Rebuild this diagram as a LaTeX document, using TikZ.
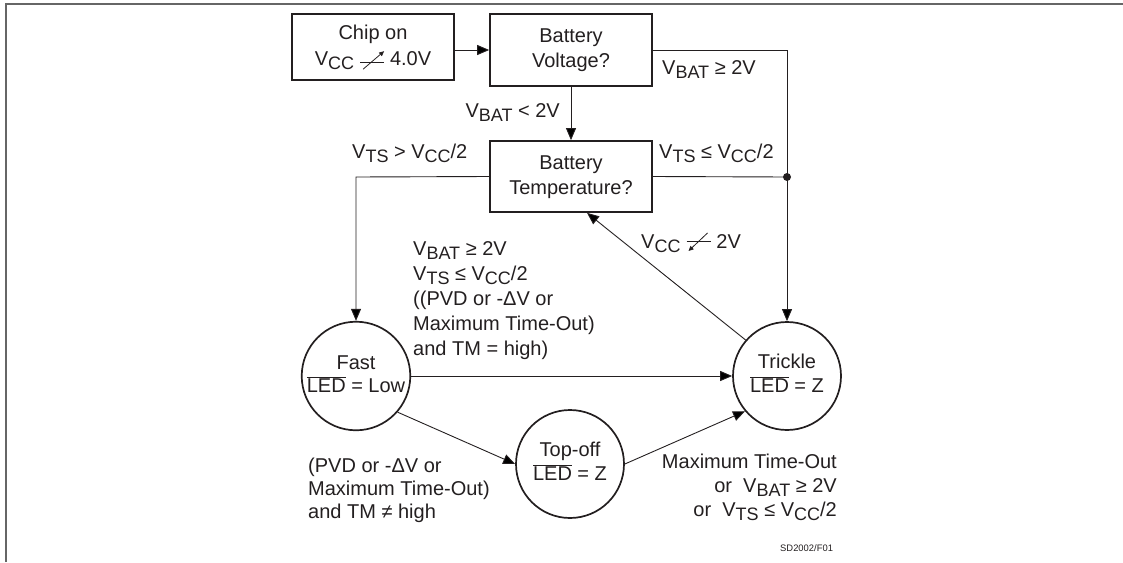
\documentclass[tikz,border=0pt]{standalone}
\usepackage{fontspec}
\setmainfont{Liberation Sans}
\usetikzlibrary{arrows.meta}
\definecolor{ink}{HTML}{231F20}
\newcommand\sub[1]{\raisebox{-0.22em}{\fontsize{18}{18}\selectfont #1}}
\newcommand\ovl[1]{$\overline{\mbox{#1}}$}
\newcommand\risearrow{\tikz[baseline=0pt,x=1pt,y=1pt]{\draw[ink,line width=0.8pt] (0,3)--(24,3); \draw[ink,line width=0.8pt,-{Triangle[length=5pt,width=4.5pt]}] (3,-4)--(24,14);}}
\newcommand\fallarrow{\tikz[baseline=0pt,x=1pt,y=1pt]{\draw[ink,line width=0.8pt] (0,7)--(24,7); \draw[ink,line width=0.8pt,-{Triangle[length=5pt,width=4.5pt]}] (21,15)--(2,-3);}}
\newcommand\stack[3]{{\fontsize{20}{#1}\selectfont\begin{tabular}[t]{@{}#2@{}}#3\end{tabular}}}
\newcommand\cstack[2]{{\fontsize{20}{#1}\selectfont\begin{tabular}{@{}c@{}}#2\end{tabular}}}
\begin{document}
\begin{tikzpicture}[x=1pt,y=-1pt,font=\fontsize{20}{24}\selectfont,text=ink,
  box/.style={draw=ink,line width=1.7pt,minimum width=162pt,inner sep=0pt},
  state/.style={circle,draw=ink,line width=1.7pt,minimum size=108pt,inner sep=0pt},
  conn/.style={draw=ink,line width=0.9pt},
  arr/.style={conn,-{Triangle[length=12pt,width=10pt]}},
  lbl/.style={inner sep=0pt}]
\useasboundingbox (0,0) rectangle (1123,562);
\draw[gray!80!black,line width=1.5pt] (6,562) -- (6,4) -- (1123,4);
% boxes
\node[box,minimum height=66pt] (chip) at (373,47) {\raisebox{-3pt}{\cstack{26}{Chip on\\V\sub{CC} \risearrow{} 4.0V}}};
\node[box,minimum height=72pt] (bv) at (571,50) {\cstack{25}{Battery\\Voltage?}};
\node[box,minimum height=71pt] (temp) at (571,176.5) {\cstack{25}{Battery\\Temperature?}};
% states
\node[state] (fast) at (356,376) {\raisebox{2pt}{\cstack{23}{Fast\\\ovl{LED} = Low}}};
\node[state] (trickle) at (787,376) {\raisebox{2pt}{\cstack{24}{Trickle\\\ovl{LED} = Z}}};
\node[state] (topoff) at (570,464) {\raisebox{2pt}{\cstack{24}{Top-off\\\ovl{LED} = Z}}};
% junctions
\coordinate (c1) at (787,50);
\coordinate (dot) at (787,177);
\coordinate (c2) at (356,177);
\fill[ink] (dot) circle (4pt);
% connectors
\draw[arr] (chip.east |- bv.west) -- (bv.west);
\draw[arr] (bv.south) -- (temp.north);
\draw[conn] (bv.east) -- (c1) -- (dot);
\draw[arr] (dot) -- (trickle.north);
\draw[conn] (temp.east) -- (dot);
\draw[arr] (temp.west) -- (c2) -- (fast.north);
\draw[arr] (fast.east) -- (trickle.west);
\draw[arr] (fast.-41) -- (topoff.west);
\draw[arr] (topoff.east) -- (trickle.-140);
\draw[arr] (trickle.139) -- ([xshift=16pt]temp.south);
% labels
\node[lbl,anchor=base east] (l1) at (560,117) {V\sub{BAT} < 2V};
\node[lbl,anchor=base west] (l2) at (662,74) {V\sub{BAT} ≥ 2V};
\node[lbl,anchor=base west] (l3) at (352,158) {V\sub{TS} > V\sub{CC}/2};
\node[lbl,anchor=base west] (l4) at (659,158) {V\sub{TS} ≤ V\sub{CC}/2};
\node[lbl,anchor=base west] (l5) at (641,248) {V\sub{CC} \fallarrow{} 2V};
\node[lbl,anchor=base west] (l6) at (413,255) {\stack{25}{l}{V\sub{BAT} ≥ 2V\\V\sub{TS} ≤ V\sub{CC}/2\\((PVD or -ΔV or\\Maximum Time-Out)\\and TM = high)}};
\node[lbl,anchor=base west] (l7) at (308,472) {\stack{23}{l}{(PVD or -ΔV or\\Maximum Time-Out)\\and TM ≠ high}};
\node[lbl,anchor=base east] (l8) at (837,468) {\stack{24}{r}{Maximum Time-Out\\or \ V\sub{BAT} ≥ 2V\\or \ V\sub{TS} ≤ V\sub{CC}/2}};
\node[lbl,anchor=base west,font=\fontsize{9.4}{11}\selectfont] (fig) at (780,551) {SD2002/F01};
\end{tikzpicture}
\end{document}
